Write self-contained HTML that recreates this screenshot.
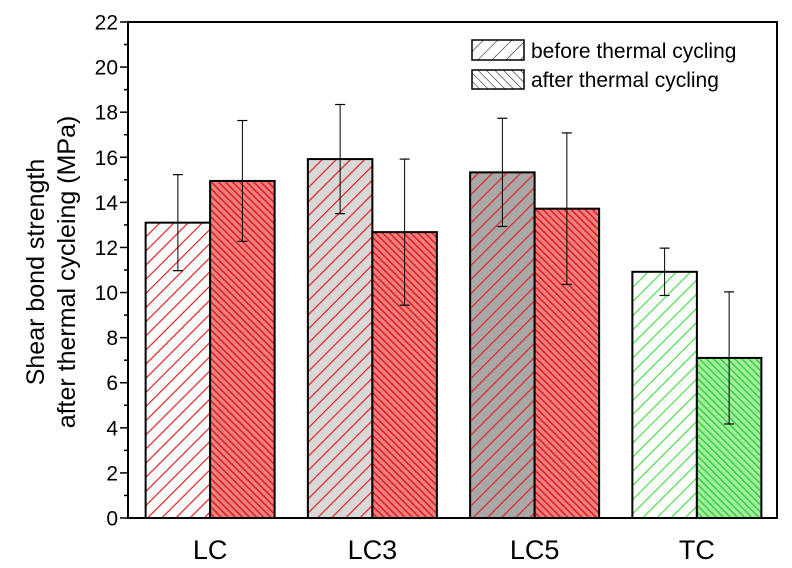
<!DOCTYPE html>
<html><head><meta charset="utf-8"><style>body{margin:0;background:#fff}svg{display:block;font-family:"Liberation Sans",Arial,sans-serif}</style></head>
<body>
<svg id="chart" width="792" height="568" viewBox="0 0 792 568">
<defs>
<pattern id="pRedW" patternUnits="userSpaceOnUse" width="10" height="10" patternTransform="rotate(45)"><rect width="10" height="10" fill="#fff"/><line x1="0" y1="0" x2="0" y2="10" stroke="#e02828" stroke-width="2.5"/></pattern>
<pattern id="pRedL" patternUnits="userSpaceOnUse" width="10" height="10" patternTransform="rotate(45)"><rect width="10" height="10" fill="#d8d8d8"/><line x1="0" y1="0" x2="0" y2="10" stroke="#e02828" stroke-width="2.5"/></pattern>
<pattern id="pRedG" patternUnits="userSpaceOnUse" width="10" height="10" patternTransform="rotate(45)"><rect width="10" height="10" fill="#a8a8a8"/><line x1="0" y1="0" x2="0" y2="10" stroke="#e02828" stroke-width="2.5"/></pattern>
<pattern id="pRedA" patternUnits="userSpaceOnUse" width="5" height="5" patternTransform="rotate(-45)"><rect width="5" height="5" fill="#f08080"/><line x1="0" y1="0" x2="0" y2="5" stroke="#d81818" stroke-width="2.8"/></pattern>
<pattern id="pGrnW" patternUnits="userSpaceOnUse" width="10" height="10" patternTransform="rotate(45)"><rect width="10" height="10" fill="#fff"/><line x1="0" y1="0" x2="0" y2="10" stroke="#50e050" stroke-width="2.5"/></pattern>
<pattern id="pGrnA" patternUnits="userSpaceOnUse" width="5" height="5" patternTransform="rotate(-45)"><rect width="5" height="5" fill="#a0f0a0"/><line x1="0" y1="0" x2="0" y2="5" stroke="#38cc38" stroke-width="2.8"/></pattern>
<pattern id="pLegF" patternUnits="userSpaceOnUse" width="10" height="10" patternTransform="rotate(45)"><rect width="10" height="10" fill="#fff"/><line x1="0" y1="0" x2="0" y2="10" stroke="#000" stroke-width="1"/></pattern>
<pattern id="pLegB" patternUnits="userSpaceOnUse" width="6" height="6" patternTransform="rotate(-45)"><rect width="6" height="6" fill="#fff"/><line x1="0" y1="0" x2="0" y2="6" stroke="#000" stroke-width="1"/></pattern>
</defs>
<g id="bars"></g>
<g id="axes"></g>
<g>
<rect x="472" y="40" width="52" height="20" fill="url(#pLegF)" stroke="#000" stroke-width="1.5"/>
<text x="531" y="58" font-size="21">before thermal cycling</text>
<rect x="472" y="70" width="52" height="19" fill="url(#pLegB)" stroke="#000" stroke-width="1.5"/>
<text x="531" y="87" font-size="21">after thermal cycling</text>
</g>
<text transform="translate(44,272) rotate(-90)" text-anchor="middle" font-size="25"><tspan x="0" dy="0">Shear bond strength</tspan><tspan x="0" dy="31">after thermal cycleing (MPa)</tspan></text>
</svg>
<script>
const categories = ["LC", "LC3", "LC5", "TC"];
const beforeValues = [13.1, 15.92, 15.33, 10.92];
const afterValues = [14.95, 12.68, 13.72, 7.1];
const beforeErr = [2.13, 2.42, 2.4, 1.05];
const afterErr = [2.68, 3.24, 3.36, 2.93];
const yTicks = [0, 2, 4, 6, 8, 10, 12, 14, 16, 18, 20, 22];

const NS = "http://www.w3.org/2000/svg";
const L = 128, R = 777, T = 22, B = 518, yMax = 22;
const y = v => B - (v / yMax) * (B - T);
const groupW = (R - L) / categories.length;
const groupCenter = i => L + groupW * (i + 0.5);
const barW = 64.5;
const beforeFills = ["url(#pRedW)", "url(#pRedL)", "url(#pRedG)", "url(#pGrnW)"];
const afterFills = ["url(#pRedA)", "url(#pRedA)", "url(#pRedA)", "url(#pGrnA)"];
function mk(tag, attrs, parent) { const e = document.createElementNS(NS, tag); for (const k in attrs) e.setAttribute(k, attrs[k]); parent.appendChild(e); return e; }
const bars = document.getElementById("bars");
const axes = document.getElementById("axes");
function errBar(cx, v, e, name) {
  const g = mk("g", {}, bars);
  
  
  mk("line", {x1: cx, x2: cx, y1: y(v + e), y2: y(v - e), stroke: "#000", "stroke-width": 1}, g);
  mk("line", {x1: cx - 5, x2: cx + 5, y1: y(v + e), y2: y(v + e), stroke: "#000", "stroke-width": 1.2}, g);
  mk("line", {x1: cx - 5, x2: cx + 5, y1: y(v - e), y2: y(v - e), stroke: "#000", "stroke-width": 1.2}, g);
}
categories.forEach((c, i) => {
  const cx = groupCenter(i) + 1;
  const b = mk("rect", {x: cx - barW, y: y(beforeValues[i]), width: barW, height: B - y(beforeValues[i]), fill: beforeFills[i], stroke: "#000", "stroke-width": 2}, bars);
  
  
  const a = mk("rect", {x: cx, y: y(afterValues[i]), width: barW, height: B - y(afterValues[i]), fill: afterFills[i], stroke: "#000", "stroke-width": 2}, bars);
  
  
  errBar(cx - barW / 2, beforeValues[i], beforeErr[i], 'error-bar-' + c.toLowerCase() + '-before');
  errBar(cx + barW / 2, afterValues[i], afterErr[i], 'error-bar-' + c.toLowerCase() + '-after');
  const t = mk("text", {x: cx, y: 559, "text-anchor": "middle", "font-size": 27}, axes);
  t.textContent = c;
  
  
});
const frame = mk("rect", {x: L, y: T, width: R - L, height: B - T, fill: "none", stroke: "#000", "stroke-width": 2}, axes);


for (let v = 1; v < yMax; v += 2) mk("line", {x1: L - 4, x2: L, y1: y(v), y2: y(v), stroke: "#000", "stroke-width": 1.5}, axes);
yTicks.forEach(v => {
  mk("line", {x1: L - 8, x2: L, y1: y(v), y2: y(v), stroke: "#000", "stroke-width": 1.5}, axes);
  const t = mk("text", {x: L - 10, y: y(v) + 7.5, "text-anchor": "end", "font-size": 21}, axes);
  t.textContent = v;
  
  
});
</script>
</body></html>
